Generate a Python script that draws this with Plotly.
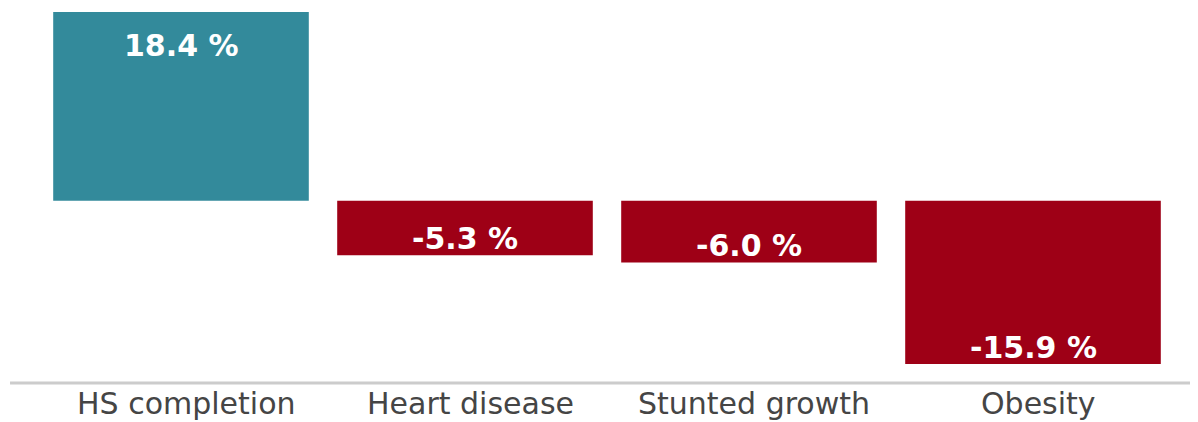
import plotly.graph_objects as go

# values (percent change)
categories = ["HS completion", "Heart disease", "Stunted growth", "Obesity"]
values = [18.4, -5.3, -6.0, -15.9]
bar_labels = ["18.4 %", "-5.3 %", "-6.0 %", "-15.9 %"]

TEAL = "#338a9b"
RED = "#9e0016"
colors = [TEAL if v > 0 else RED for v in values]

fig = go.Figure(
    go.Bar(
        x=categories,
        y=values,
        marker=dict(color=colors, line=dict(width=0)),
        width=0.9,
        cliponaxis=False,
        hoverinfo="skip",
    )
)

# value labels sit inside the far end of each bar
for cat, v, lab in zip(categories, values, bar_labels):
    fig.add_annotation(
        x=cat, y=v, xref="x", yref="y",
        text=lab, showarrow=False,
        yanchor="top" if v > 0 else "bottom",
        yshift=-14 if v > 0 else -3,
        font=dict(family="DejaVu Sans", size=30, color="white", weight="bold"),
    )

# category names under the grey rule
for cat in categories:
    fig.add_annotation(
        x=cat, y=0, xref="x", yref="paper",
        text=cat, showarrow=False,
        yanchor="top", yshift=-20, xshift=5,
        font=dict(family="DejaVu Sans", size=30, color="#454545"),
    )

# grey rule across the full width, a few pixels under the plot area
fig.add_shape(
    type="line", xref="paper", yref="paper",
    ysizemode="pixel", yanchor=0,
    x0=-0.0255, x1=1.02, y0=-19, y1=-19,
    line=dict(color="#cccccc", width=3),
)

# page body adds an 8px margin, so the figure is 8px smaller than the window
fig.update_layout(
    width=1190,
    height=414,
    margin=dict(l=31, r=23, t=4, b=58),
    plot_bgcolor="white",
    paper_bgcolor="white",
    showlegend=False,
    bargap=0.1,
    xaxis=dict(visible=False),
    yaxis=dict(visible=False, range=[-15.9, 18.4]),
)

fig.write_html("out.html")
